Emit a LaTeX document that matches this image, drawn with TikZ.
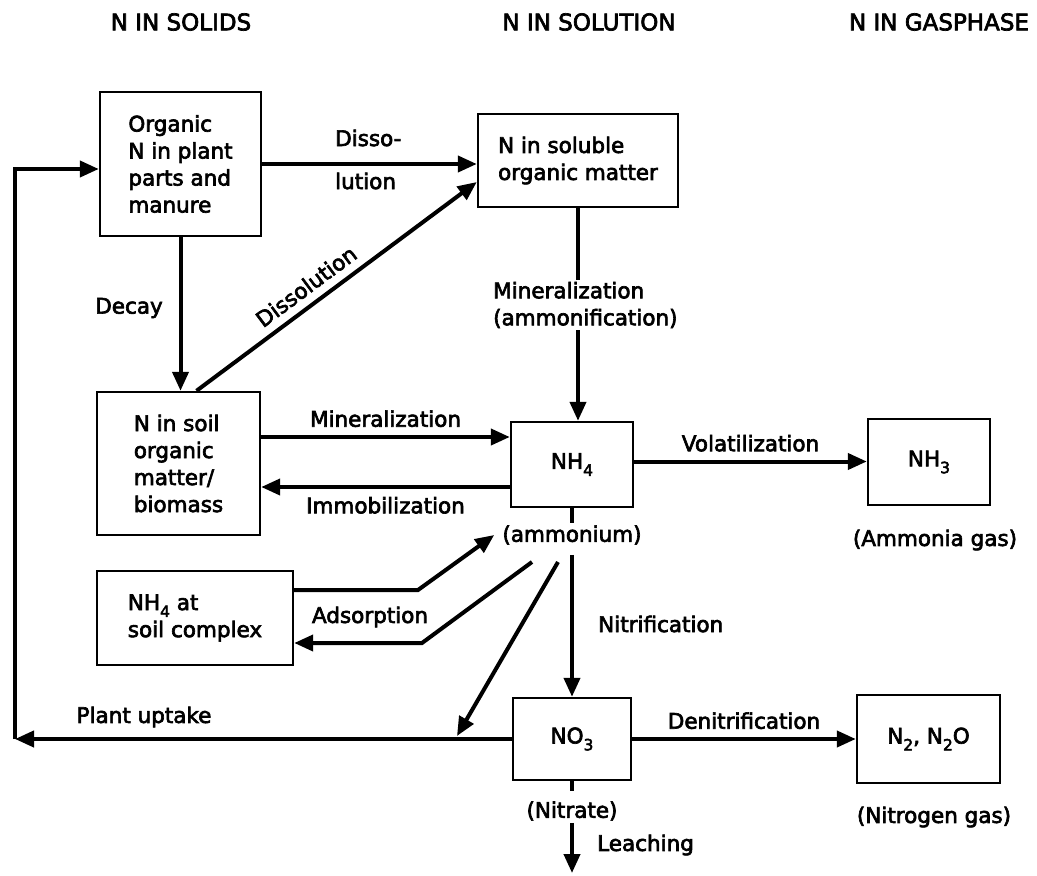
\documentclass[tikz,border=0pt]{standalone}
\usepackage{fontspec}
\setmainfont{DejaVu Sans}
% regular widths, emboldened strokes
\newfontfamily\heavy[FakeBold=3]{DejaVu Sans}
\usetikzlibrary{arrows.meta}
% lowered subscript digit for chemical formulas
\newcommand\lsub[1]{\raisebox{-0.32em}{\fontsize{15.5}{15.5}\selectfont #1}}

\begin{document}
\begin{tikzpicture}[x=1pt,y=-1pt,
  every node/.style={font=\heavy\fontsize{21.5}{27}\selectfont, inner sep=2pt},
  pool/.style={draw, line width=2.4pt, align=left, inner sep=0pt},
  flow/.style={line width=4pt, -{Triangle[length=19pt,width=16pt]}},
  link/.style={line width=4pt},
  hdr/.style={font=\heavy\fontsize{23}{27}\selectfont}]
\useasboundingbox (0,0) rectangle (1037,876);

% column headings
\node[hdr] (hSolid) at (181,22) {N IN SOLIDS};
\node[hdr] (hSoln)  at (589,22) {N IN SOLUTION};
\node[hdr] (hGas)   at (939,22) {N IN GASPHASE};

% nitrogen pools
\node[pool, minimum width=161pt, minimum height=144pt] (A) at (180.5,164) {Organic\\N in plant\\parts and\\manure};
\node[pool, minimum width=200pt, minimum height=93pt]  (B) at (578,160.5) {N in soluble\\organic matter};
\node[pool, minimum width=163pt, minimum height=143pt] (C) at (178.5,463.5) {N in soil\\organic\\matter/\\biomass};
\node[pool, minimum width=122pt, minimum height=85pt]  (D) at (572,464.5) {NH\lsub{4}};
\node[pool, minimum width=122pt, minimum height=86pt]  (E) at (929,462) {NH\lsub{3}};
\node[pool, minimum width=196pt, minimum height=94pt]  (F) at (195,618) {NH\lsub{4} at\\soil complex};
\node[pool, minimum width=118pt, minimum height=82pt]  (G) at (572,739) {NO\lsub{3}};
\node[pool, minimum width=143pt, minimum height=88pt]  (H) at (928.5,739) {N\lsub{2}, N\lsub{2}O};

% captions under pools
\node (amm)    at (572,535) {(ammonium)};
\node (ammgas) at (935,540) {(Ammonia gas)};
\node (nit)    at (572,811) {(Nitrate)};
\node (n2gas)  at (934,817) {(Nitrogen gas)};

% process labels
\node[anchor=west] (lDisA) at (333,138) {Disso-};
\node[anchor=west] (lDisB) at (333,181) {lution};
\node (lDecay) at (129,308) {Decay};
\node[align=left, anchor=west] (lMinAm) at (491,305) {Mineralization\\(ammonification)};
\node (lAds) at (370,617) {Adsorption};
\node[anchor=west] (lNitr) at (596,624) {Nitrification};
\node (lUpt) at (144,717) {Plant uptake};
\node[anchor=west] (lLeach) at (595,845) {Leaching};

% helper points for bent connectors
\coordinate (adsA) at (418,590);
\coordinate (adsB) at (422,643);
\coordinate (adsC) at (532,562);
\coordinate (upA) at (558,562);
\coordinate (upB) at (457,736);
\coordinate (corner) at (15,739);
\coordinate (leach) at (572,873);

% solids -> solution
\draw[flow] (A.east) -- (A.east -| B.west);
\draw[flow] (A.south) -- (A.south |- C.north);
\draw[flow] ([xshift=18pt]C.north) -- node[sloped, above=6pt, pos=0.43] (lDis) {Dissolution} ([yshift=-21.5pt]B.west);

% mineralization of soluble organic N
\draw[link] (B.south) -- (B.south |- lMinAm.north);
\draw[flow] (B.south |- lMinAm.south) -- (B.south |- D.north);

% soil organic matter <-> ammonium
\draw[flow] ([yshift=26.5pt]C.east) -- node[above=6pt] (lMin) {Mineralization} ([yshift=26.5pt]C.east -| D.west);
\draw[flow] ([yshift=-22.5pt]D.west) -- node[below=6pt] (lImm) {Immobilization} ([yshift=-22.5pt]D.west -| C.east);

% volatilization
\draw[flow] ([yshift=3pt]D.east) -- node[above=6pt] (lVol) {Volatilization} ([yshift=3pt]D.east -| E.west);

% nitrification
\draw[link] (D.south) -- (amm.north);
\draw[flow] ([yshift=-8pt]amm.south) -- (G.north);

% adsorption exchange
\draw[flow] ([yshift=28pt]F.east) -- (adsA) -- ([xshift=-6pt]amm.west);
\draw[flow] (adsC) -- (adsB) -- ([yshift=-25pt]F.east);

% ammonium uptake joining the plant uptake line
\draw[flow] (upA) -- (upB);

% plant uptake and return to plant material
\draw[flow] (G.west) -- (corner);
\draw[flow] (corner) |- ([yshift=-5pt]A.west);

% denitrification
\draw[flow] (G.east) -- node[above=6pt] (lDen) {Denitrification} (G.east -| H.west);

% leaching
\draw[link, shorten >=8pt] (G.south) -- (nit.north);
\draw[flow] (nit.south) -- (leach);
\end{tikzpicture}
\end{document}
